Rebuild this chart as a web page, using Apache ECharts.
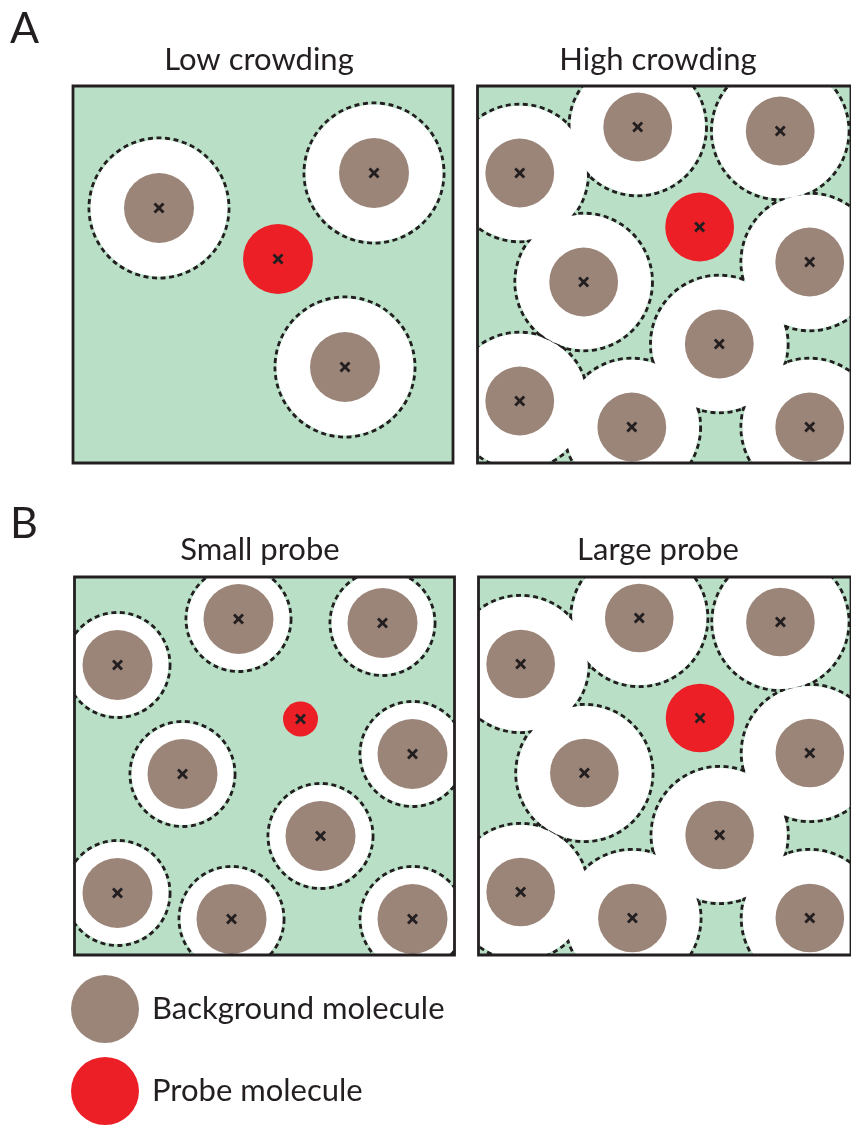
<!DOCTYPE html>
<html>
<head>
<meta charset="utf-8">
<script src="https://cdn.jsdelivr.net/npm/echarts@6/dist/echarts.min.js"></script>
<style>html,body{margin:0;padding:0;background:#fff}#c{width:851px;height:1126px}</style>
</head>
<body>
<div id="c"></div>
<script>
// ---- data (frame units: 1 unit = 1 px, origin at frame top-left, y downward) ----
const panelTitles = ['Low crowding', 'High crowding', 'Small probe', 'Large probe'];
const panelLetters = ['A', 'B'];
const legendNames = ['Background molecule', 'Probe molecule'];

const bgRadius = 35;          // background molecule radius
const probeRadiusLarge = 35;  // probe radius (A panels, Large probe)
const probeRadiusSmall = 17.5;// probe radius (Small probe)

const lowCrowdingBackground = [[86, 122], [301, 87], [272, 281]];
const lowCrowdingProbe = [[205, 173]];

const highCrowdingBackground = [
  [43, 87], [163, 41], [308, 45], [108, 196], [338, 176],
  [246, 258], [43, 315], [157, 341], [338, 341]
];
const highCrowdingProbe = [[226, 141]];

const smallProbeBackground = [
  [43, 88], [164, 42], [308, 46], [108, 197], [338, 177],
  [246, 259], [43, 316], [157, 342], [338, 342]
];
const smallProbe = [[226, 142]];

const largeProbeBackground = [
  [43, 87], [164, 41], [308, 45], [108, 196], [338, 176],
  [246, 258], [43, 315], [157, 341], [338, 341]
];
const largeProbe = [[226, 141]];

// ---- styles ----
const GREEN = '#b9e0c7';
const BROWN = '#9b8579';
const RED = '#ec1f27';
const INK = '#231f20';
const FONT = 'Lato';

const panels = [
  {left: 73, top: 86, w: 380, h: 377, bg: lowCrowdingBackground, probe: lowCrowdingProbe, pr: probeRadiusLarge},
  {left: 477.5, top: 86, w: 380, h: 377, bg: highCrowdingBackground, probe: highCrowdingProbe, pr: probeRadiusLarge},
  {left: 74.5, top: 577, w: 380, h: 378, bg: smallProbeBackground, probe: smallProbe, pr: probeRadiusSmall},
  {left: 478.5, top: 577, w: 380, h: 378, bg: largeProbeBackground, probe: largeProbe, pr: probeRadiusLarge}
];

function zoneRender(radius, isStroke) {
  return function (params, api) {
    const c = api.coord([api.value(0), api.value(1)]);
    const r = api.size([radius, 0])[0];
    if (isStroke) {
      return {type: 'circle', shape: {cx: c[0], cy: c[1], r: r},
        style: {fill: 'none', stroke: INK, lineWidth: 2.9, lineDash: [5, 3.6]}};
    }
    return {type: 'circle', shape: {cx: c[0], cy: c[1], r: r - 1.6}, style: {fill: '#ffffff'}};
  };
}
function molRender(radius, color) {
  return function (params, api) {
    const c = api.coord([api.value(0), api.value(1)]);
    const r = api.size([radius, 0])[0];
    const d = 4.5;
    return {type: 'group', children: [
      {type: 'circle', shape: {cx: c[0], cy: c[1], r: r}, style: {fill: color}},
      {type: 'line', shape: {x1: c[0] - d, y1: c[1] - d, x2: c[0] + d, y2: c[1] + d}, style: {stroke: INK, lineWidth: 2.8}},
      {type: 'line', shape: {x1: c[0] - d, y1: c[1] + d, x2: c[0] + d, y2: c[1] - d}, style: {stroke: INK, lineWidth: 2.8}}
    ]};
  };
}
function frameRender(params, api) {
  const cs = params.coordSys;
  return {type: 'rect', shape: {x: cs.x, y: cs.y, width: cs.width, height: cs.height},
    style: {fill: 'none', stroke: INK, lineWidth: 2.8}};
}

const grid = [], xAxis = [], yAxis = [], series = [];
panels.forEach((p, i) => {
  grid.push({left: p.left, top: p.top, width: p.w, height: p.h, show: true,
    backgroundColor: GREEN, borderWidth: 0});
  xAxis.push({type: 'value', gridIndex: i, min: 0, max: p.w, show: false});
  yAxis.push({type: 'value', gridIndex: i, min: 0, max: p.h, inverse: true, show: false});
  const excl = bgRadius + p.pr;
  const common = {type: 'custom', xAxisIndex: i, yAxisIndex: i, clip: true, silent: true,
    encode: {x: 0, y: 1}, animation: false};
  series.push(Object.assign({}, common, {name: 'zone-stroke-' + i, z: 2, data: p.bg, renderItem: zoneRender(excl, true)}));
  series.push(Object.assign({}, common, {name: 'zone-fill-' + i, z: 3, data: p.bg, renderItem: zoneRender(excl, false)}));
  series.push(Object.assign({}, common, {name: legendNames[0], z: 4, data: p.bg, itemStyle: {color: BROWN}, renderItem: molRender(bgRadius, BROWN)}));
  series.push(Object.assign({}, common, {name: legendNames[1], z: 4, data: p.probe, itemStyle: {color: RED}, renderItem: molRender(p.pr, RED)}));
  series.push(Object.assign({}, common, {name: 'frame-' + i, z: 10, clip: false, data: [[0, 0]], renderItem: frameRender}));
});

const titleStyle = {fontFamily: FONT, fontSize: 31, fontWeight: 'normal', color: INK};
const letterStyle = {fontFamily: FONT, fontSize: 43, fontWeight: 'normal', color: INK};
const title = [
  {text: panelLetters[0], left: 5, top: 3, textStyle: letterStyle},
  {text: panelLetters[1], left: 5, top: 498, textStyle: letterStyle},
  {text: panelTitles[0], left: 254, top: 39, textAlign: 'center', textStyle: titleStyle},
  {text: panelTitles[1], left: 653, top: 39, textAlign: 'center', textStyle: titleStyle},
  {text: panelTitles[2], left: 255, top: 529, textAlign: 'center', textStyle: titleStyle},
  {text: panelTitles[3], left: 653, top: 529, textAlign: 'center', textStyle: titleStyle}
];

const chart = echarts.init(document.getElementById('c'), null, {renderer: 'canvas'});
chart.setOption({
  animation: false,
  backgroundColor: '#ffffff',
  title: title,
  grid: grid, xAxis: xAxis, yAxis: yAxis,
  legend: {
    orient: 'vertical', left: 71, top: 975, padding: 0, itemWidth: 68, itemHeight: 68, itemGap: 14,
    selectedMode: false,
    data: [
      {name: legendNames[0], icon: 'circle', itemStyle: {color: BROWN}},
      {name: legendNames[1], icon: 'circle', itemStyle: {color: RED}}
    ],
    textStyle: {fontFamily: FONT, fontSize: 31, color: INK, padding: [0, 0, 0, 8]}
  },
  series: series
});
</script>
</body>
</html>
